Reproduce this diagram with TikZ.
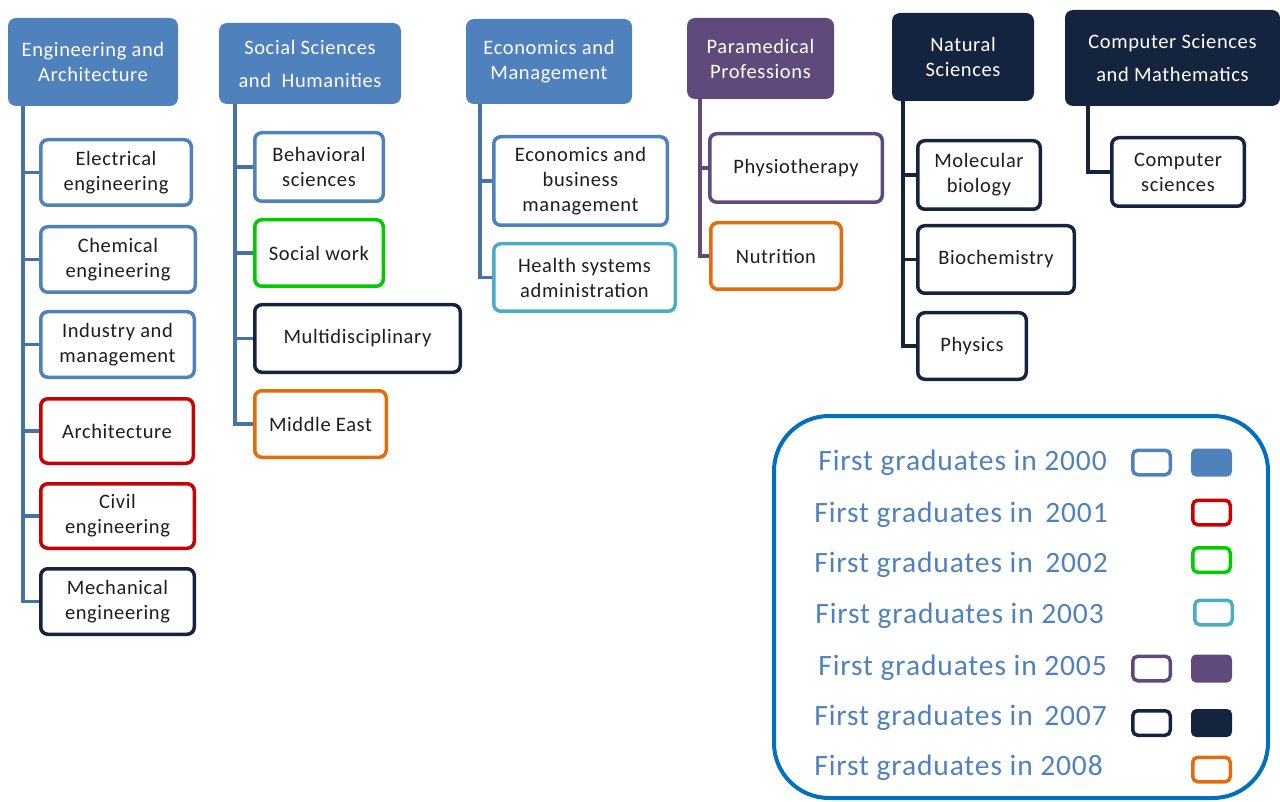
\documentclass[tikz,border=0pt]{standalone}
\usepackage{fontspec}
\setmainfont{Carlito}[LetterSpace=3]
\definecolor{cblue}{HTML}{4F81BD}
\definecolor{cred}{HTML}{CC0000}
\definecolor{cgreen}{HTML}{00CC00}
\definecolor{cteal}{HTML}{4BACC6}
\definecolor{cpurple}{HTML}{604A7B}
\definecolor{cnavy}{HTML}{14243F}
\definecolor{corange}{HTML}{E46C0A}
\definecolor{clegend}{HTML}{0070C0}
\definecolor{cline}{HTML}{4672A8}
\definecolor{ctext}{HTML}{1E1E1E}
\newcommand{\nfs}{\fontsize{20.5}{25}\selectfont}
\newcommand{\lfs}{\fontsize{29.5}{34}\selectfont}
\begin{document}
\begin{tikzpicture}[x=1pt,y=-1pt,
  head/.style={rounded corners=8pt, fill=#1, draw=none, text=white, align=center, inner sep=0pt, font=\nfs},
  kid/.style={rounded corners=7pt, draw=#1, line width=3.5pt, fill=white, align=center, inner sep=0pt, text=ctext, font=\nfs},
  conn/.style={draw=#1, line width=3.5pt},
  legtext/.style={anchor=base east, inner sep=0pt, text=cblue, font=\lfs},
  legbox/.style={rounded corners=5pt, draw=#1, line width=3.5pt, fill=white, minimum width=37.5pt, minimum height=24.5pt, inner sep=0pt},
  legfill/.style={rounded corners=5pt, fill=#1, draw=none, minimum width=41pt, minimum height=28pt, inner sep=0pt}
]
\useasboundingbox (0,0) rectangle (1280,802);

% headers
\node[head=cblue, minimum width=170pt, minimum height=88pt] (hEng) at (93,62) {Engineering and\\Architecture};
\node[head=cblue, minimum width=182pt, minimum height=81pt] (hSoc) at (310,63.5) {Social Sciences\\[8pt]and\ \ Humanities};
\node[head=cblue, minimum width=166pt, minimum height=85pt] (hEco) at (549,61.5) {Economics and\\Management};
\node[head=cpurple, minimum width=147pt, minimum height=81pt] (hPar) at (760.5,58.5) {Paramedical\\Professions};
\node[head=cnavy, minimum width=142pt, minimum height=88pt] (hNat) at (963,57) {Natural\\Sciences};
\node[head=cnavy, minimum width=215pt, minimum height=96pt] (hCS) at (1172.5,58) {Computer Sciences\\[8pt]and Mathematics};

% trunk start points
\coordinate (tE) at (23,106);
\coordinate (tS) at (235,104);
\coordinate (tEc) at (480,104);
\coordinate (tP) at (700,99);
\coordinate (tN) at (903,101);
\coordinate (tC) at (1088,106);

% children
\node[kid=cblue, minimum width=150.5pt, minimum height=65.5pt] (ee) at (116,172.5) {Electrical\\engineering};
\node[kid=cblue, minimum width=154.5pt, minimum height=65.5pt] (ce) at (118,259.5) {Chemical\\engineering};
\node[kid=cblue, minimum width=153.5pt, minimum height=65.5pt] (im) at (117.5,344.5) {Industry and\\management};
\node[kid=cred, minimum width=152.5pt, minimum height=64.5pt] (ar) at (117,431) {Architecture};
\node[kid=cred, minimum width=153.5pt, minimum height=64.5pt] (cv) at (117.5,516) {Civil\\engineering};
\node[kid=cnavy, minimum width=153.5pt, minimum height=65.5pt] (me) at (117.5,601.5) {Mechanical\\engineering};

\node[kid=cblue, minimum width=128.5pt, minimum height=68.5pt] (bs) at (319,167) {Behavioral\\sciences};
\node[kid=cgreen, minimum width=128.5pt, minimum height=66.5pt] (sw) at (319,253) {Social work};
\node[kid=cnavy, minimum width=205.5pt, minimum height=67.5pt] (md) at (357.5,338.5) {Multidisciplinary};
\node[kid=corange, minimum width=131.5pt, minimum height=66.5pt] (mi) at (320.5,424) {Middle East};

\node[kid=cblue, minimum width=173.5pt, minimum height=88.5pt] (eb) at (580.5,181) {Economics and\\business\\management};
\node[kid=cteal, minimum width=181.5pt, minimum height=67.5pt] (hs) at (584.5,277.5) {Health systems\\administration};

\node[kid=cpurple, minimum width=172.5pt, minimum height=68.5pt] (ph) at (796,168) {Physiotherapy};
\node[kid=corange, minimum width=130.5pt, minimum height=66.5pt] (nu) at (776,256) {Nutrition};

\node[kid=cnavy, minimum width=122.5pt, minimum height=68.5pt] (mb) at (979,175) {Molecular\\biology};
\node[kid=cnavy, minimum width=156.5pt, minimum height=67.5pt] (bc) at (996,259.5) {Biochemistry};
\node[kid=cnavy, minimum width=108.5pt, minimum height=66.5pt] (py) at (972,346) {Physics};

\node[kid=cnavy, minimum width=132.5pt, minimum height=68.5pt] (cs) at (1178,172) {Computer\\sciences};

% connectors
\draw[conn=cline] (tE) |- (ee.west);
\draw[conn=cline] (tE) |- (ce.west);
\draw[conn=cline] (tE) |- (im.west);
\draw[conn=cline] (tE) |- (ar.west);
\draw[conn=cline] (tE) |- (cv.west);
\draw[conn=cline] (tE) |- (me.west);

\draw[conn=cline] (tS) |- (bs.west);
\draw[conn=cline] (tS) |- (sw.west);
\draw[conn=cline] (tS) |- (md.west);
\draw[conn=cline] (tS) |- (mi.west);

\draw[conn=cline] (tEc) |- (eb.west);
\draw[conn=cline] (tEc) |- (hs.west);

\draw[conn=cpurple] (tP) |- (ph.west);
\draw[conn=cpurple] (tP) |- (nu.west);

\draw[conn=cnavy] (tN) |- (mb.west);
\draw[conn=cnavy] (tN) |- (bc.west);
\draw[conn=cnavy] (tN) |- (py.west);

\draw[conn=cnavy] (tC) |- (cs.west);

% legend
\node[draw=clegend, line width=4pt, rounded corners=55pt, minimum width=494pt, minimum height=382pt, inner sep=0pt] (legend) at (1021,607) {};

\node[legtext] (l1) at (1107,470) {First graduates in 2000};
\node[legtext] (l2) at (1108,522) {First graduates in\hspace{5pt} 2001};
\node[legtext] (l3) at (1108,572) {First graduates in\hspace{5pt} 2002};
\node[legtext] (l4) at (1104,623) {First graduates in 2003};
\node[legtext] (l5) at (1107,675) {First graduates in 2005};
\node[legtext] (l6) at (1107,725) {First graduates in\hspace{4pt} 2007};
\node[legtext] (l7) at (1103,775) {First graduates in 2008};

\node[legbox=cblue] (b1o) at (1151.5,462.5) {};
\node[legfill=cblue] (b1f) at (1211.5,462.5) {};
\node[legbox=cred] (b2) at (1211.5,512.5) {};
\node[legbox=cgreen] (b3) at (1211.5,560) {};
\node[legbox=cteal] (b4) at (1213.5,612.5) {};
\node[legbox=cpurple] (b5o) at (1151.5,668.5) {};
\node[legfill=cpurple] (b5f) at (1211.5,668.5) {};
\node[legbox=cnavy] (b6o) at (1151.5,723) {};
\node[legfill=cnavy] (b6f) at (1211.5,723) {};
\node[legbox=corange] (b7) at (1211.5,769.5) {};
\end{tikzpicture}
\end{document}
